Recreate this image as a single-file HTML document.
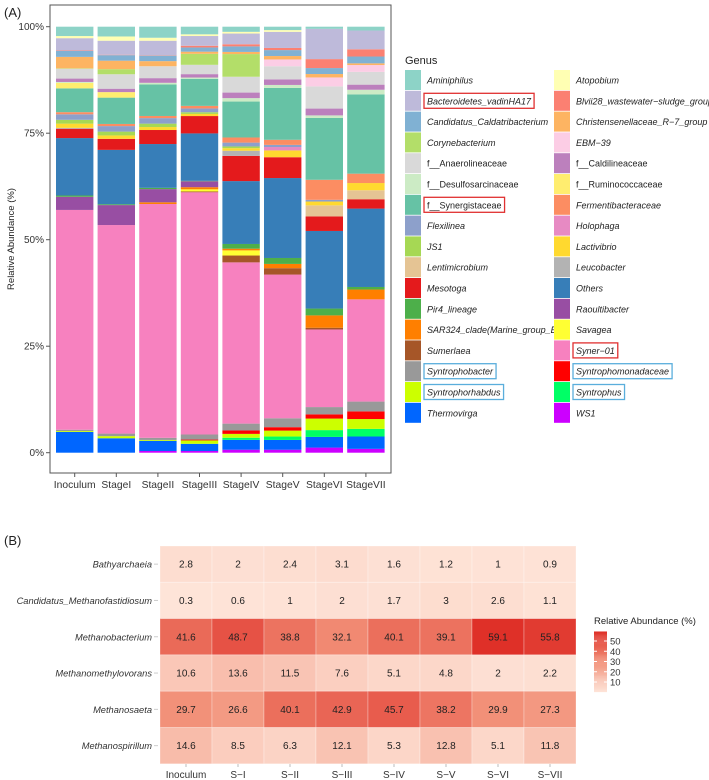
<!DOCTYPE html>
<html><head><meta charset="utf-8"><style>
html,body{margin:0;padding:0;background:#fff;}
svg{display:block;font-family:"Liberation Sans",Arial,sans-serif;}
</style></head><body>
<svg id="fig" width="709" height="780" viewBox="0 0 709 780" xmlns="http://www.w3.org/2000/svg">
<text x="4" y="17" font-size="13" fill="#222">(A)</text>
<rect x="50" y="5" width="341" height="468" fill="#fff" stroke="#555" stroke-width="1"/>
<g id="bars"></g>
<g id="yaxis"></g>
<g id="xaxis"></g>
<text transform="translate(14,239) rotate(-90)" font-size="9.5" text-anchor="middle" fill="#222">Relative Abundance (%)</text>
<text x="405" y="64" font-size="11" fill="#222">Genus</text>
<g id="legend"></g>
<text x="4" y="545" font-size="13" fill="#222">(B)</text>
<g id="heat"></g>
<text x="594" y="624" font-size="9.5" fill="#222">Relative Abundance (%)</text>
<g id="cbar"></g>
</svg>
<script>
const NS="http://www.w3.org/2000/svg";
function mk(tag,attrs,parent,text){const e=document.createElementNS(NS,tag);for(const k in attrs)e.setAttribute(k,attrs[k]);if(text!==undefined)e.textContent=text;parent.appendChild(e);return e;}

const stages=["Inoculum","StageI","StageII","StageIII","StageIV","StageV","StageVI","StageVII"];
const genera=["Aminiphilus","Atopobium","Bacteroidetes_vadinHA17","Blvii28_wastewater\u2212sludge_group","Candidatus_Caldatribacterium","Christensenellaceae_R\u22127_group","Corynebacterium","EBM\u221239","f__Anaerolineaceae","f__Caldilineaceae","f__Desulfosarcinaceae","f__Ruminococcaceae","f__Synergistaceae","Fermentibacteraceae","Flexilinea","Holophaga","JS1","Lactivibrio","Lentimicrobium","Leucobacter","Mesotoga","Others","Pir4_lineage","Raoultibacter","SAR324_clade(Marine_group_B)","Savagea","Sumerlaea","Syner\u221201","Syntrophobacter","Syntrophomonadaceae","Syntrophorhabdus","Syntrophus","Thermovirga","WS1"];
const colors=["#8dd3c7","#ffffb3","#bebada","#fb8072","#80b1d3","#fdb462","#b3de69","#fccde5","#d9d9d9","#bc80bd","#ccebc5","#ffed6f","#66c2a5","#fc8d62","#8da0cb","#e78ac3","#a6d854","#ffd92f","#e5c494","#b3b3b3","#e41a1c","#377eb8","#4daf4a","#984ea3","#ff7f00","#ffff33","#a65628","#f781bf","#999999","#ff0000","#ccff00","#00ff66","#0066ff","#cc00ff"];
const vInoculum=[2.2,0.5,2.9,0.1,1.4,2.7,0.1,0,2.3,0.8,0.2,1.3,5.6,0.5,1.3,0,0.9,1.0,0,0.2,2.2,13.5,0.3,3.1,0,0,0,51.7,0.3,0,0.2,0,4.9,0];
const vStageI=[2.3,1.0,3.3,0.1,1.3,2.0,1.2,0,3.4,0.8,0,1.3,6.2,0.5,1.3,0,0.9,0.8,0,0,2.6,12.8,0.2,4.7,0,0,0,49.1,0.6,0,0.5,0,3.4,0];
const vStageII=[2.6,0.7,3.4,0.1,1.3,1.2,0,0,2.8,1.1,0.4,0,7.4,0.5,1.3,0,0.8,0.7,0,0,3.3,10.3,0.3,3.1,0.4,0,0,55.0,0.5,0,0.2,0,2.4,0.4];
const vStageIII=[1.8,0.4,2.3,0.4,1.0,0.5,2.6,0,2.2,0.8,0.3,0,6.4,0.6,0.9,0,0.4,0.5,0,0,4.1,11.2,0.1,1.4,0.5,0.5,0.2,57.2,1.2,0.2,0.8,0,1.7,0.4];
const vStageIV=[1.2,0.4,2.5,0.5,1.3,0.5,5.3,0,3.7,1.3,0.8,0,8.4,1.2,0.9,0,0.4,0.6,0,1.2,5.9,14.7,1.1,0,0.4,1.2,1.6,37.7,1.6,0.8,0.9,0.5,2.3,0.7];
const vStageV=[0.8,0.4,3.8,0.5,1.4,0.8,0,1.6,3.1,1.3,0.7,0,12.2,1.2,0.5,0.8,0,1.6,0,0,4.9,18.8,1.4,0,1.0,0,1.5,33.8,2.1,0.8,1.4,0.8,2.3,0.7];
const vStageVI=[0.5,0,7.1,2.1,1.4,0.8,0,2.1,5.2,1.6,0.6,0,14.5,4.7,0.4,0,0,0.9,2.6,0,3.4,18.2,1.6,0,2.9,0,0.4,18.2,1.7,1.0,2.7,1.6,2.5,1.2];
const vStageVII=[0.9,0,4.4,1.7,1.6,0.4,0,1.6,3.0,1.2,1.1,0,18.6,2.2,0,0,0,1.7,2.1,0,2.2,18.4,0.6,0,2.3,0,0,24.0,2.3,1.8,2.3,1.8,2.9,0.9];
const series=[vInoculum,vStageI,vStageII,vStageIII,vStageIV,vStageV,vStageVI,vStageVII];
const yTicks=[0,25,50,75,100];
const yTickLabels=["0%","25%","50%","75%","100%"];

const Y0=452.7,Y1=26.7;
const yScale=p=>Y0+(Y1-Y0)*p/100;
const xCenter=i=>74.7+i*41.6;
const BW=37.4;

const gB=document.getElementById('bars');
series.forEach((vals,i)=>{
  const tot=vals.reduce((a,b)=>a+b,0);
  let cum=0;
  for(let k=vals.length-1;k>=0;k--){
    const v=vals[k]/tot*100;
    if(v<=0)continue;
    const yb=yScale(cum), yt=yScale(cum+v);
    const r=mk('rect',{x:(xCenter(i)-BW/2).toFixed(2),y:yt.toFixed(2),width:BW,height:(yb-yt).toFixed(2),fill:colors[k]},gB);
    
    
    cum+=v;
  }
});
const gY=document.getElementById('yaxis');
yTicks.forEach((t,i)=>{
  const y=yScale(t);
  mk('line',{x1:46,x2:50,y1:y,y2:y,stroke:'#555'},gY);
  const tx=mk('text',{x:44,y:y+3.5,'font-size':10,'text-anchor':'end',fill:'#333'},gY,yTickLabels[i]);
  
  
});
const gX=document.getElementById('xaxis');
stages.forEach((s,i)=>{
  const x=xCenter(i);
  mk('line',{x1:x,x2:x,y1:473,y2:477,stroke:'#555'},gX);
  const tx=mk('text',{x:x,y:488,'font-size':10.3,'text-anchor':'middle',fill:'#333'},gX,s);
  
  
});

const gL=document.getElementById('legend');
const redBox=["Bacteroidetes_vadinHA17","f__Synergistaceae","Syner\u221201"];
const blueBox=["Syntrophobacter","Syntrophorhabdus","Syntrophomonadaceae","Syntrophus"];
genera.forEach((g,k)=>{
  const col=k%2,row=Math.floor(k/2);
  const sx=col?554:405, sy=70+row*20.8;
  const it=mk('g',{},gL);
  
  
  mk('rect',{x:sx,y:sy,width:16,height:20,fill:colors[k]},it);
  const ital=!g.startsWith('f__');
  const t=mk('text',{x:sx+22,y:sy+13.5,'font-size':9,fill:'#222','font-style':ital?'italic':'normal'},it,g);
  if(redBox.includes(g)||blueBox.includes(g)){
    const w=t.getComputedTextLength();
    mk('rect',{x:sx+19,y:sy+2.5,width:w+6,height:15,fill:'none',stroke:redBox.includes(g)?'#e03030':'#5aaedc','stroke-width':1.3},it);
  }
});

const hCols=["Inoculum","S\u2212I","S\u2212II","S\u2212III","S\u2212IV","S\u2212V","S\u2212VI","S\u2212VII"];
const hRows=["Bathyarchaeia","Candidatus_Methanofastidiosum","Methanobacterium","Methanomethylovorans","Methanosaeta","Methanospirillum"];
const hBathy=[2.8,2,2.4,3.1,1.6,1.2,1,0.9];
const hCandM=[0.3,0.6,1,2,1.7,3,2.6,1.1];
const hMbac=[41.6,48.7,38.8,32.1,40.1,39.1,59.1,55.8];
const hMmeth=[10.6,13.6,11.5,7.6,5.1,4.8,2,2.2];
const hMsae=[29.7,26.6,40.1,42.9,45.7,38.2,29.9,27.3];
const hMspi=[14.6,8.5,6.3,12.1,5.3,12.8,5.1,11.8];
const hVals=[hBathy,hCandM,hMbac,hMmeth,hMsae,hMspi];
const cbTicks=[10,20,30,40,50];
const HX=160,HY=546,CW=52,RH=36.3;
function lerp(a,b,t){return a.map((v,i)=>Math.round(v+(b[i]-v)*t));}
function colorFor(v){
  const s=[[0,[254,229,217]],[30,[242,144,120]],[60,[222,45,38]]];
  let c;
  if(v<=30)c=lerp(s[0][1],s[1][1],v/30);else c=lerp(s[1][1],s[2][1],Math.min(1,(v-30)/30));
  return 'rgb('+c.join(',')+')';
}
const gH=document.getElementById('heat');
hCols.forEach((c,j)=>{
  const x=HX+CW*j+CW/2;
  mk('line',{x1:x,x2:x,y1:764,y2:767,stroke:'#bbb'},gH);
  const t=mk('text',{x:x,y:778,'font-size':10,'text-anchor':'middle',fill:'#333'},gH,c);
  
  
});
hRows.forEach((r,i)=>{
  const y=HY+RH*i+RH/2;
  mk('line',{x1:154,x2:158,y1:y,y2:y,stroke:'#ccc'},gH);
  const t=mk('text',{x:152,y:y+3.5,'font-size':9.3,'text-anchor':'end','font-style':'italic',fill:'#333'},gH,r);
  
  
  hVals[i].forEach((v,j)=>{
    const cell=mk('rect',{x:HX+CW*j,y:HY+RH*i,width:CW,height:RH,fill:colorFor(v),stroke:'#fff','stroke-opacity':0.35,'stroke-width':0.8},gH);
    
    
    const tv=mk('text',{x:HX+CW*j+CW/2,y:HY+RH*i+RH/2+3.5,'font-size':10,'text-anchor':'middle',fill:'#222'},gH,String(v));
    
    
  });
});
const gC=document.getElementById('cbar');
const cbScale=v=>682-(v-10)*(41/40);
for(let v=0.3;v<59.1;v+=0.5){
  mk('rect',{x:594,y:cbScale(v+0.5).toFixed(2),width:13,height:0.7,fill:colorFor(v)},gC);
}
cbTicks.forEach(t=>{
  const y=cbScale(t);
  mk('line',{x1:594,x2:597,y1:y,y2:y,stroke:'#fff'},gC);
  mk('line',{x1:604,x2:607,y1:y,y2:y,stroke:'#fff'},gC);
  const tx=mk('text',{x:610,y:y+3.5,'font-size':9.5,fill:'#333'},gC,String(t));
  
  
});
</script>
</body></html>
